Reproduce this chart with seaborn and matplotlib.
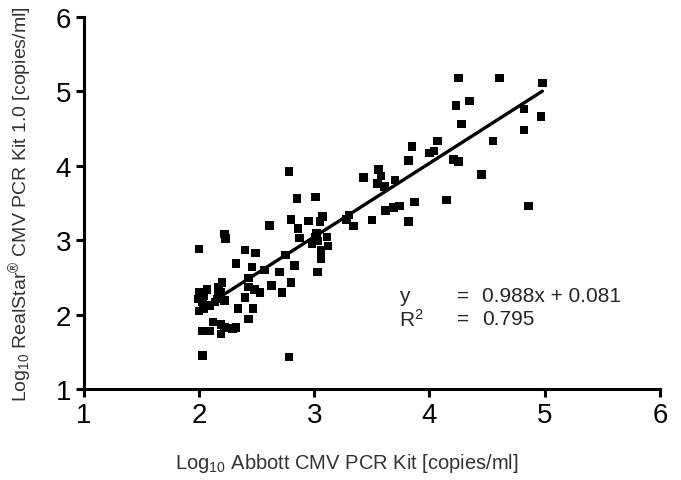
import numpy as np
import pandas as pd
import matplotlib
matplotlib.use("Agg")
import matplotlib.pyplot as plt
import seaborn as sns

# valores (log10 cópias/ml)
abbott = [2.00, 1.99, 2.04, 2.07, 2.03, 2.00, 2.04, 2.09, 2.17, 2.20, 2.16, 2.22, 2.14,
          2.00, 2.22, 2.23, 2.03, 2.09, 2.12, 2.19, 2.22, 2.19, 2.29, 2.32, 2.03, 2.17, 2.19,
          2.34, 2.47, 2.43, 2.40, 2.43, 2.48, 2.53, 2.43, 2.63, 2.72, 2.80, 2.32, 2.46,
          2.40, 2.49, 2.57, 2.70, 2.61, 2.75, 2.83, 2.78, 2.85, 2.80, 2.86, 2.87, 2.78,
          3.01, 2.95, 3.07, 3.05, 3.02, 3.01, 3.03, 2.98, 3.11, 3.12, 3.06, 3.06, 3.03,
          3.30, 3.28, 3.34, 3.43, 3.50, 3.56, 3.58, 3.55, 3.61, 3.70, 3.62, 3.69, 3.74,
          3.82, 3.87, 3.82, 3.85, 4.04, 4.00, 4.07,
          4.15, 4.21, 4.25, 4.23, 4.35, 4.28, 4.25, 4.61, 4.45, 4.55, 4.82, 4.82, 4.97,
          4.86, 4.98]
realstar = [2.30, 2.21, 2.25, 2.34, 2.17, 2.05, 2.08, 2.12, 2.30, 2.43, 2.21, 2.19, 2.17,
            2.88, 3.08, 3.02, 1.78, 1.78, 1.90, 1.87, 1.83, 1.74, 1.81, 1.83, 1.45, 2.37, 2.30,
            2.08, 2.08, 1.94, 2.23, 2.37, 2.34, 2.30, 2.49, 2.39, 2.30, 2.43, 2.69, 2.64,
            2.87, 2.83, 2.60, 2.57, 3.20, 2.80, 2.66, 3.92, 3.56, 3.28, 3.16, 3.03, 1.43,
            3.58, 3.26, 3.32, 3.25, 3.09, 3.04, 2.99, 2.95, 3.04, 2.92, 2.86, 2.75, 2.57,
            3.34, 3.28, 3.19, 3.84, 3.27, 3.95, 3.86, 3.76, 3.72, 3.81, 3.40, 3.44, 3.46,
            3.25, 3.51, 4.07, 4.26, 4.20, 4.17, 4.33,
            3.54, 4.08, 4.06, 4.81, 4.87, 4.56, 5.18, 5.18, 3.88, 4.33, 4.76, 4.48, 4.66,
            3.46, 5.11]

inclinacao = 0.988
intercepto = 0.081
r2 = 0.795

dados = pd.DataFrame({'Abbott': abbott, 'RealStar': realstar})

sns.set_style("ticks")
plt.rcParams['font.family'] = ['Liberation Sans', 'DejaVu Sans']
plt.rcParams['mathtext.fontset'] = 'custom'
plt.rcParams['mathtext.rm'] = 'Liberation Sans'
plt.rcParams['mathtext.it'] = 'Liberation Sans:italic'

fig = plt.figure(figsize=(6.81, 4.81), dpi=100)
ax = fig.add_axes([0.123, 0.189, 0.846, 0.774])

sns.scatterplot(data=dados, x='Abbott', y='RealStar', marker='s', s=38,
                color='black', edgecolor='none', ax=ax, zorder=3)

# reta de regressão
xr = np.array([min(abbott), max(abbott)])
reta = pd.DataFrame({'x': xr, 'y': inclinacao * xr + intercepto})
sns.lineplot(data=reta, x='x', y='y', color='black', linewidth=2.4, ax=ax, zorder=4)

ax.set_xlim(1, 6)
ax.set_ylim(1, 6)
ax.set_xticks([1, 2, 3, 4, 5, 6])
ax.set_yticks([1, 2, 3, 4, 5, 6])
for s in ['top', 'right']:
    ax.spines[s].set_visible(False)
for s in ['left', 'bottom']:
    ax.spines[s].set_linewidth(2.2)
    ax.spines[s].set_color('black')
ax.tick_params(axis='both', direction='out', length=6, width=2.2,
               labelsize=20, colors='black', pad=3)

ax.set_xlabel(r'Log$_{10}$ Abbott CMV PCR Kit [copies/ml]', fontsize=14.5,
              color='#333333', labelpad=19)
ax.xaxis.set_label_coords(0.457, -0.165)
ax.set_ylabel(r'Log$_{10}$ RealStar$^{®}$ CMV PCR Kit 1.0 [copies/ml]', fontsize=14,
              color='#333333', labelpad=15)

ax.text(3.74, 2.26, 'y', fontsize=15, va='center')
ax.text(4.24, 2.26, '=', fontsize=15, va='center')
ax.text(4.46, 2.26, f'{inclinacao}x + {intercepto}', fontsize=15, va='center')
ax.text(3.74, 1.95, r'R$^{2}$', fontsize=15, va='center')
ax.text(4.24, 1.95, '=', fontsize=15, va='center')
ax.text(4.46, 1.95, f'{r2}', fontsize=15, va='center')

fig.savefig('out.png', dpi=100)
